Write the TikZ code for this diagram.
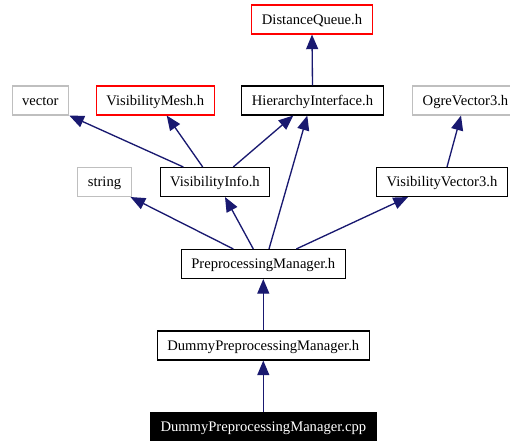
\documentclass[tikz,border=0pt]{standalone}
\usepackage{fontspec}
\setmainfont{Liberation Serif}
\usetikzlibrary{arrows.meta, positioning, calc}
\definecolor{edgeblue}{HTML}{191970}
\definecolor{boxgray}{HTML}{BFBFBF}
\tikzset{
  hfile/.style={rectangle, draw=black, line width=0.8pt, inner xsep=7.5pt,
                minimum height=21.75pt, text height=8pt, text depth=1.2pt,
                font=\fontsize{10.95}{13}\selectfont},
  doc/.style={hfile},
  undoc/.style={hfile, draw=red},
  ext/.style={hfile, draw=boxgray},
  src/.style={hfile, fill=black, text=white},
}

\begin{document}
\begin{tikzpicture}[
  x=0.75pt, y=-0.75pt,
  dep/.style={-{Triangle[length=11pt, width=9pt]}, draw=edgeblue, line width=1pt}
]
  \useasboundingbox (0,0) rectangle (510,441);

  \node[undoc] (dq)   at (312,19.5)  {DistanceQueue.h};
  \node[ext]   (vec)  at (40.3,100.5) {vector};
  \node[undoc] (vm)   at (155.3,100.5) {VisibilityMesh.h};
  \node[doc]   (hi)   at (312.5,100.5) {HierarchyInterface.h};
  \node[ext]   (ogre) at (465.5,100.5) {OgreVector3.h};
  \node[ext]   (str)  at (104.5,182) {string};
  \node[doc]   (vi)   at (215,182)   {VisibilityInfo.h};
  \node[doc]   (vv3)  at (442,182)   {VisibilityVector3.h};
  \node[doc]   (pm)   at (263.3,264) {PreprocessingManager.h};
  \node[doc]   (dpm)  at (263.3,345.5) {DummyPreprocessingManager.h};
  \node[src]   (cpp)  at (263.3,427) {DummyPreprocessingManager.cpp};

  \draw[dep] (hi.north) -- (dq.south);
  \draw[dep] ([xshift=-31.7*0.75pt]vi.north) -- ([xshift=29*0.75pt]vec.south);
  \draw[dep] ([xshift=-12.3*0.75pt]vi.north) -- ([xshift=11.4*0.75pt]vm.south);
  \draw[dep] ([xshift=18.3*0.75pt]vi.north)  -- ([xshift=-19.2*0.75pt]hi.south);
  \draw[dep] ([xshift=-30*0.75pt]pm.north)   -- ([xshift=26*0.75pt]str.south);
  \draw[dep] ([xshift=-10*0.75pt]pm.north)   -- ([xshift=10*0.75pt]vi.south);
  \draw[dep] ([xshift=5.7*0.75pt]pm.north)   -- ([xshift=-5.2*0.75pt]hi.south);
  \draw[dep] ([xshift=33*0.75pt]pm.north)    -- ([xshift=-34*0.75pt]vv3.south);
  \draw[dep] ([xshift=5*0.75pt]vv3.north)    -- ([xshift=-4.5*0.75pt]ogre.south);
  \draw[dep] (dpm.north) -- (pm.south);
  \draw[dep] (cpp.north) -- (dpm.south);
\end{tikzpicture}
\end{document}
